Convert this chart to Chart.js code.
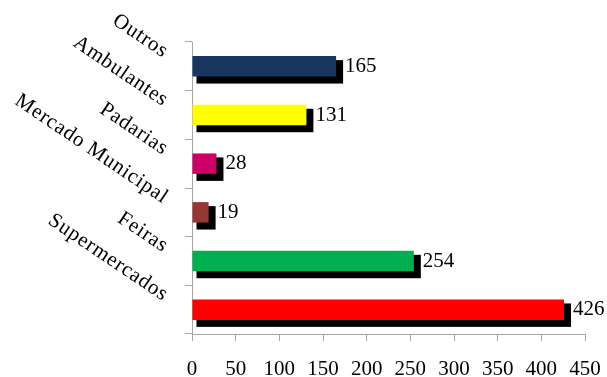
<!DOCTYPE html>
<html>
<head>
    <title>Locais de compra</title>
    <script src="https://cdn.jsdelivr.net/npm/chart.js"></script>
    <style>
        body { margin: 0; background: #ffffff; }
        #wrap { width: 607px; height: 377px; }
    </style>
</head>
<body>
    <div id="wrap"><canvas id="locaisChart"></canvas></div>
    <script>
    // dados (de cima para baixo)
    const categorias = ['Outros', 'Ambulantes', 'Padarias', 'Mercado Municipal', 'Feiras', 'Supermercados'];
    const valores = [165, 131, 28, 19, 254, 426];
    const cores = ['#17375E', '#FFFF00', '#CC0066', '#953735', '#00B050', '#FF0000'];
    const ticksX = [0, 50, 100, 150, 200, 250, 300, 350, 400, 450];

    const fonte = "'Liberation Serif', 'Times New Roman', serif";
    const cinza = '#a6a6a6';

    // rotulos das categorias um pouco mais espacados (como no original)
    const espacoPlugin = {
        id: 'espaco',
        beforeDraw(chart) {
            chart.ctx.letterSpacing = '0.8px';
        },
        beforeDatasetsDraw(chart) {
            chart.ctx.letterSpacing = '0px';
        }
    };

    // sombra preta atras de cada barra
    const sombraPlugin = {
        id: 'sombra',
        beforeDatasetsDraw(chart) {
            const ctx = chart.ctx;
            const meta = chart.getDatasetMeta(0);
            ctx.save();
            ctx.fillStyle = '#000000';
            meta.data.forEach(bar => {
                const p = bar.getProps(['x', 'y', 'base', 'height'], true);
                const top = p.y - p.height / 2;
                ctx.fillRect(p.base + 4, top + 4, (p.x - p.base) + 3, p.height + 3);
            });
            ctx.restore();
        }
    };

    // valores ao lado das barras
    const rotuloPlugin = {
        id: 'rotulos',
        afterDatasetsDraw(chart) {
            const ctx = chart.ctx;
            const meta = chart.getDatasetMeta(0);
            ctx.save();
            ctx.font = '21px ' + fonte;
            ctx.fillStyle = '#000000';
            ctx.textAlign = 'left';
            ctx.textBaseline = 'middle';
            meta.data.forEach((bar, i) => {
                const p = bar.getProps(['x', 'y'], true);
                ctx.fillText(String(valores[i]), p.x + 9, p.y);
            });
            ctx.restore();
        }
    };

    const ctx = document.getElementById('locaisChart').getContext('2d');
    const chart = new Chart(ctx, {
        type: 'bar',
        data: {
            labels: categorias,
            datasets: [{
                data: valores,
                backgroundColor: cores,
                borderWidth: 0,
                barPercentage: 0.42,
                categoryPercentage: 1
            }]
        },
        options: {
            indexAxis: 'y',
            responsive: true,
            maintainAspectRatio: false,
            animation: false,
            layout: {
                padding: { top: 42, right: 22, left: 0, bottom: 0 }
            },
            scales: {
                x: {
                    min: 0,
                    max: 450,
                    afterBuildTicks: axis => {
                        axis.ticks = ticksX.map(v => ({ value: v }));
                    },
                    afterFit: axis => {
                        axis.height = 43;
                        axis.paddingLeft = 0;
                        axis.paddingRight = 0;
                    },
                    grid: {
                        display: true,
                        drawOnChartArea: false,
                        drawTicks: true,
                        tickLength: 7,
                        tickColor: cinza
                    },
                    border: { color: cinza, width: 1 },
                    ticks: {
                        z: 1,
                        color: '#000000',
                        padding: 16,
                        maxRotation: 0,
                        autoSkip: false,
                        font: { family: fonte, size: 21 }
                    }
                },
                y: {
                    afterFit: axis => {
                        axis.width = 192;
                        axis.paddingTop = 0;
                        axis.paddingBottom = 0;
                    },
                    grid: {
                        display: true,
                        drawOnChartArea: false,
                        drawTicks: true,
                        tickLength: 7,
                        tickColor: cinza
                    },
                    border: { color: cinza, width: 1 },
                    ticks: {
                        color: '#000000',
                        minRotation: -34,
                        maxRotation: -34,
                        padding: 19,
                        labelOffset: -13,
                        autoSkip: false,
                        font: { family: fonte, size: 21 }
                    }
                }
            },
            plugins: {
                legend: { display: false },
                tooltip: { enabled: false }
            }
        },
        plugins: [espacoPlugin, sombraPlugin, rotuloPlugin]
    });
    </script>
</body>
</html>
